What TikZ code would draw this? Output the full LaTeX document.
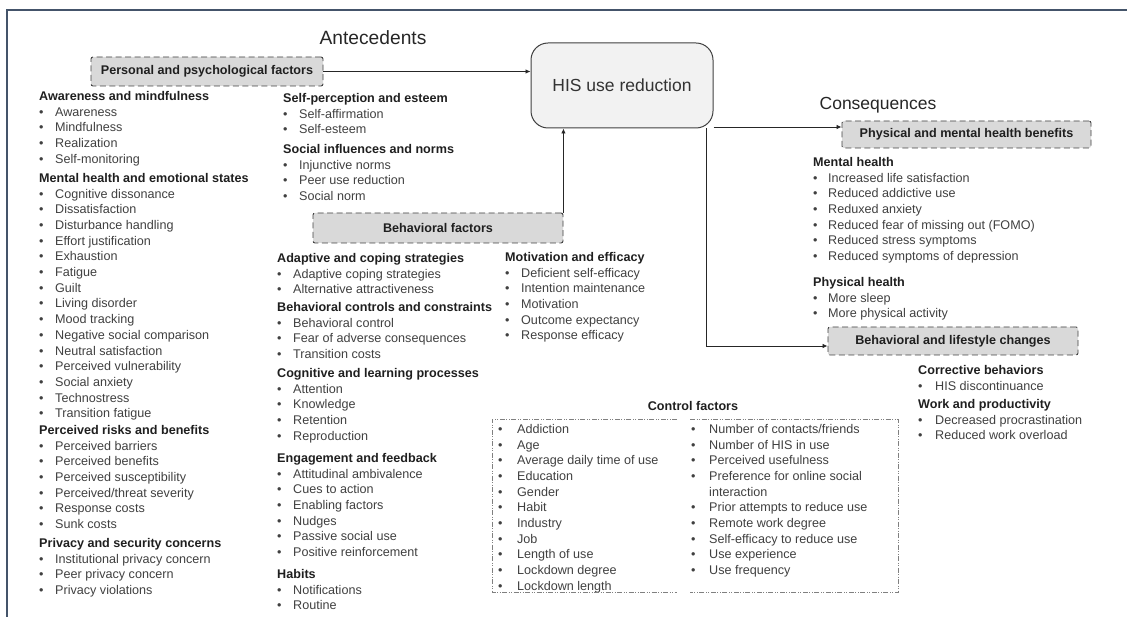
\documentclass[tikz,border=0pt]{standalone}
\usepackage{fontspec}
\setmainfont{Liberation Sans}
\usetikzlibrary{arrows.meta,positioning}
\definecolor{framecol}{HTML}{44546A}
\definecolor{boxline}{HTML}{404040}
\definecolor{boxfill}{HTML}{D9D9D9}
\definecolor{hisfill}{HTML}{F2F2F2}
\definecolor{itemtext}{HTML}{404040}
\definecolor{headtext}{HTML}{1F1F1F}
\definecolor{ctrlline}{HTML}{808080}
\newcommand{\bl}[2][16pt]{\makebox[#1][l]{\textbullet}#2}
\newcommand{\hd}[1]{{\color{headtext}\bfseries #1}}
\tikzstyle{connector} = [line width=0.8pt, draw=black!85, -{Latex[length=5pt,width=4.5pt]}]
\tikzstyle{factorbox} = [draw=boxline, fill=boxfill, dash pattern=on 6pt off 3.5pt, line width=0.9pt, rounded corners=2pt, font=\fontsize{12.6}{15}\selectfont\bfseries, text=headtext, inner sep=0pt]
\tikzstyle{mainbox} = [draw=boxline, fill=hisfill, line width=1pt, rounded corners=17pt, minimum width=182pt, minimum height=85pt, font=\fontsize{17.5}{20}\selectfont, text=black!80]
\tikzstyle{title} = [font=\fontsize{17.5}{20}\selectfont, text=black!85, inner sep=0pt]
\tikzstyle{factorlist} = [align=left, anchor=north west, inner sep=0pt, font=\fontsize{12.6}{15.7}\selectfont, text=itemtext]
\tikzstyle{ctrlbox} = [draw=ctrlline, line width=0.6pt, dash pattern=on 5pt off 1.5pt on 1pt off 1.5pt on 1pt off 1.5pt]

\begin{document}
\begin{tikzpicture}[x=1pt, y=-1pt]
\useasboundingbox (0,0) rectangle (1127,617);
\draw [framecol, line width=2.2pt] (7,625) -- (7,10) -- (1135,10);

\node (antec) [title, anchor=base, font=\fontsize{19.2}{22}\selectfont] at (373,44.5) {Antecedents};
\node (conseq) [title, anchor=base] at (878,109.5) {Consequences};
\node (his) [mainbox] at (622,85.5) {HIS use reduction};

\node (personal) [factorbox, minimum width=232pt, minimum height=29pt] at (207,71.5) {Personal and psychological factors};
\node (behav) [factorbox, minimum width=250pt, minimum height=30pt] at (438,228) {Behavioral factors};
\node (health) [factorbox, minimum width=249pt, minimum height=27pt] at (966.5,134.5) {Physical and mental health benefits};
\node (lifestyle) [factorbox, minimum width=250pt, minimum height=28pt] at (953,341) {Behavioral and lifestyle changes};

\draw [connector] (personal.east) -- (personal.east -| his.west);
\draw [connector] (behav.north east) -- (behav.north east |- his.south);
\draw [connector] ([yshift=7.5pt]health.west -| his.east) -- ([yshift=7.5pt]health.west);
\draw [connector] ([xshift=-7pt]his.south east) |- ([yshift=-5pt]lifestyle.west);

\node (aware) [factorlist] at (39,91) {\hd{Awareness and mindfulness}\\ \bl{Awareness}\\ \bl{Mindfulness}\\ \bl{Realization}\\ \bl{Self-monitoring}};
\node (mental) [factorlist] at (39,173) {\hd{Mental health and emotional states}\\ \bl{Cognitive dissonance}\\ \bl{Dissatisfaction}\\ \bl{Disturbance handling}\\ \bl{Effort justification}\\ \bl{Exhaustion}\\ \bl{Fatigue}\\ \bl{Guilt}\\ \bl{Living disorder}\\ \bl{Mood tracking}\\ \bl{Negative social comparison}\\ \bl{Neutral satisfaction}\\ \bl{Perceived vulnerability}\\ \bl{Social anxiety}\\ \bl{Technostress}\\ \bl{Transition fatigue}};
\node (risks) [factorlist] at (39,425) {\hd{Perceived risks and benefits}\\ \bl{Perceived barriers}\\ \bl{Perceived benefits}\\ \bl{Perceived susceptibility}\\ \bl{Perceived/threat severity}\\ \bl{Response costs}\\ \bl{Sunk costs}};
\node (privacy) [factorlist] at (39,538) {\hd{Privacy and security concerns}\\ \bl{Institutional privacy concern}\\ \bl{Peer privacy concern}\\ \bl{Privacy violations}};

\node (selfperc) [factorlist] at (283,93) {\hd{Self-perception and esteem}\\ \bl{Self-affirmation}\\ \bl{Self-esteem}};
\node (social) [factorlist] at (283,144) {\hd{Social influences and norms}\\ \bl{Injunctive norms}\\ \bl{Peer use reduction}\\ \bl{Social norm}};

\node (coping) [factorlist] at (277,253) {\hd{Adaptive and coping strategies}\\ \bl{Adaptive coping strategies}\\ \bl{Alternative attractiveness}};
\node (controls) [factorlist] at (277,302) {\hd{Behavioral controls and constraints}\\ \bl{Behavioral control}\\ \bl{Fear of adverse consequences}\\ \bl{Transition costs}};
\node (cognitive) [factorlist] at (277,368) {\hd{Cognitive and learning processes}\\ \bl{Attention}\\ \bl{Knowledge}\\ \bl{Retention}\\ \bl{Reproduction}};
\node (engage) [factorlist] at (277,453) {\hd{Engagement and feedback}\\ \bl{Attitudinal ambivalence}\\ \bl{Cues to action}\\ \bl{Enabling factors}\\ \bl{Nudges}\\ \bl{Passive social use}\\ \bl{Positive reinforcement}};
\node (habits) [factorlist] at (277,569) {\hd{Habits}\\ \bl{Notifications}\\ \bl{Routine}};
\node (motiv) [factorlist] at (505,252) {\hd{Motivation and efficacy}\\ \bl{Deficient self-efficacy}\\ \bl{Intention maintenance}\\ \bl{Motivation}\\ \bl{Outcome expectancy}\\ \bl{Response efficacy}};

\node (mentalh) [factorlist] at (813,157) {\hd{Mental health}\\ \bl[15pt]{Increased life satisfaction}\\ \bl[15pt]{Reduced addictive use}\\ \bl[15pt]{Reduxed anxiety}\\ \bl[15pt]{Reduced fear of missing out (FOMO)}\\ \bl[15pt]{Reduced stress symptoms}\\ \bl[15pt]{Reduced symptoms of depression}};
\node (physh) [factorlist] at (813,277) {\hd{Physical health}\\ \bl[15pt]{More sleep}\\ \bl[15pt]{More physical activity}};
\node (corrective) [factorlist] at (918,365) {\hd{Corrective behaviors}\\ \bl[17pt]{HIS discontinuance}};
\node (work) [factorlist] at (918,399) {\hd{Work and productivity}\\ \bl[17pt]{Decreased procrastination}\\ \bl[17pt]{Reduced work overload}};

\node (ctrltitle) [font=\fontsize{12.6}{15}\selectfont\bfseries, text=headtext] at (693,406) {Control factors};
\node (ctrlleft) [factorlist] at (498,424) {\bl[19pt]{Addiction}\\ \bl[19pt]{Age}\\ \bl[19pt]{Average daily time of use}\\ \bl[19pt]{Education}\\ \bl[19pt]{Gender}\\ \bl[19pt]{Habit}\\ \bl[19pt]{Industry}\\ \bl[19pt]{Job}\\ \bl[19pt]{Length of use}\\ \bl[19pt]{Lockdown degree}\\ \bl[19pt]{Lockdown length}};
\node (ctrlright) [factorlist] at (691,424) {\bl[18pt]{Number of contacts/friends}\\ \bl[18pt]{Number of HIS in use}\\ \bl[18pt]{Perceived usefulness}\\ \bl[18pt]{Preference for online social}\\ \hspace*{18pt}interaction\\ \bl[18pt]{Prior attempts to reduce use}\\ \bl[18pt]{Remote work degree}\\ \bl[18pt]{Self-efficacy to reduce use}\\ \bl[18pt]{Use experience}\\ \bl[18pt]{Use frequency}};
\draw [ctrlbox] (677,419) -- (492,419) -- (492,592) -- (677,592);
\draw [ctrlbox] (690,419) -- (898,419) -- (898,592) -- (690,592);
\end{tikzpicture}
\end{document}
